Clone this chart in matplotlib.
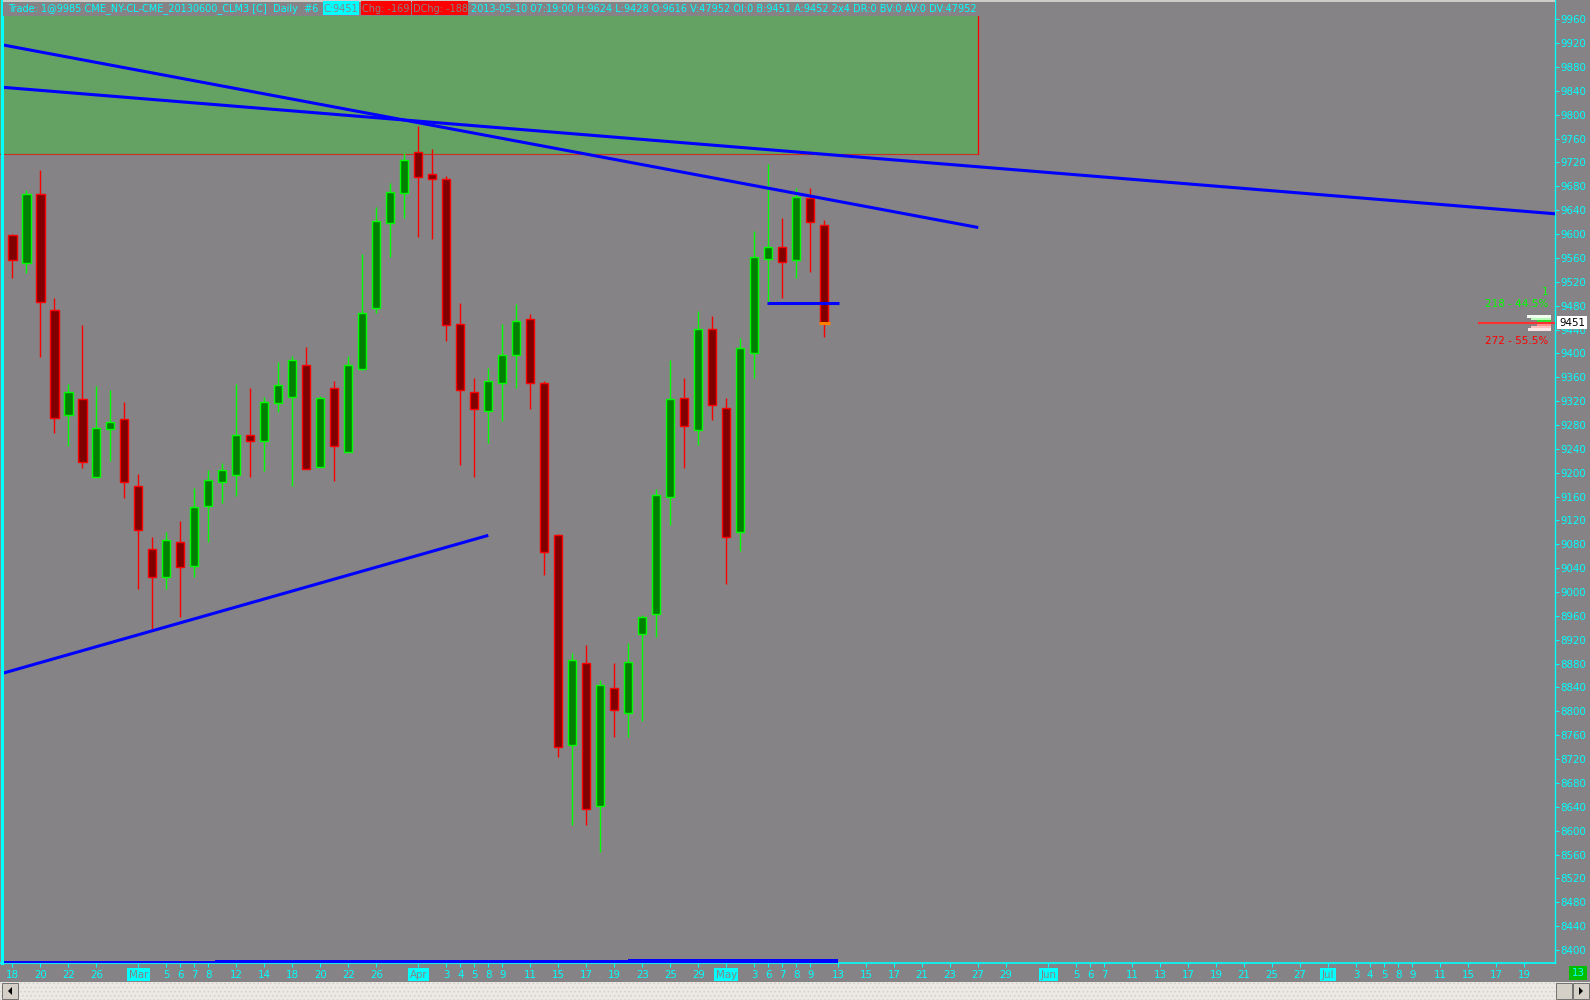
import matplotlib
matplotlib.use('Agg')
import matplotlib.pyplot as plt
from matplotlib.patches import Rectangle, Polygon
from matplotlib.lines import Line2D
import pandas as pd

# ---------------- data ----------------
all_dates = [d.strftime('%Y-%m-%d') for d in pd.bdate_range('2013-02-18', '2013-07-19')
             if d.strftime('%Y-%m-%d') != '2013-03-29']

opens = [9598, 9552, 9667, 9473, 9297, 9324, 9193, 9273, 9290, 9178,
         9072, 9025, 9084, 9044, 9144, 9184, 9196, 9263, 9253, 9317,
         9327, 9381, 9210, 9342, 9235, 9374, 9476, 9619, 9669, 9738,
         9700, 9693, 9450, 9336, 9303, 9350, 9397, 9457, 9350, 9095,
         8743, 8881, 8641, 8839, 8797, 8929, 8963, 9159, 9325, 9271,
         9441, 9308, 9100, 9400, 9559, 9579, 9556, 9660, 9616]
highs = [9600, 9674, 9707, 9493, 9349, 9448, 9345, 9339, 9319, 9198,
         9092, 9101, 9119, 9174, 9204, 9216, 9349, 9342, 9327, 9386,
         9396, 9411, 9329, 9354, 9396, 9567, 9645, 9686, 9736, 9781,
         9743, 9698, 9484, 9359, 9376, 9449, 9483, 9466, 9354, 9098,
         8897, 8911, 8853, 8881, 8914, 8961, 9172, 9389, 9359, 9471,
         9463, 9326, 9425, 9605, 9717, 9627, 9678, 9678, 9624]
lows = [9526, 9535, 9394, 9267, 9245, 9208, 9193, 9220, 9158, 9005,
        8938, 9005, 8958, 9025, 9084, 9150, 9161, 9193, 9203, 9302,
        9178, 9206, 9210, 9186, 9235, 9372, 9468, 9562, 9627, 9595,
        9592, 9420, 9213, 9193, 9249, 9287, 9342, 9307, 9029, 8723,
        8609, 8609, 8564, 8757, 8757, 8783, 8925, 9113, 9208, 9246,
        9288, 9013, 9068, 9358, 9486, 9493, 9526, 9537, 9428]
closes = [9557, 9667, 9486, 9292, 9335, 9218, 9275, 9285, 9184, 9104,
          9025, 9087, 9042, 9142, 9188, 9205, 9263, 9253, 9319, 9347,
          9389, 9206, 9325, 9245, 9381, 9468, 9622, 9671, 9724, 9696,
          9692, 9447, 9338, 9306, 9353, 9397, 9455, 9350, 9067, 8740,
          8886, 8637, 8844, 8802, 8882, 8958, 9162, 9323, 9279, 9441,
          9313, 9093, 9409, 9561, 9579, 9553, 9662, 9621, 9451]

label_dates = ['2013-02-18', '2013-02-20', '2013-02-22', '2013-02-26', '2013-03-01',
               '2013-03-05', '2013-03-06', '2013-03-07', '2013-03-08', '2013-03-12',
               '2013-03-14', '2013-03-18', '2013-03-20', '2013-03-22', '2013-03-26',
               '2013-04-01', '2013-04-03', '2013-04-04', '2013-04-05', '2013-04-08',
               '2013-04-09', '2013-04-11', '2013-04-15', '2013-04-17', '2013-04-19',
               '2013-04-23', '2013-04-25', '2013-04-29', '2013-05-01', '2013-05-03',
               '2013-05-06', '2013-05-07', '2013-05-08', '2013-05-09', '2013-05-13',
               '2013-05-15', '2013-05-17', '2013-05-21', '2013-05-23', '2013-05-27',
               '2013-05-29', '2013-06-03', '2013-06-05', '2013-06-06', '2013-06-07',
               '2013-06-11', '2013-06-13', '2013-06-17', '2013-06-19', '2013-06-21',
               '2013-06-25', '2013-06-27', '2013-07-01', '2013-07-03', '2013-07-04',
               '2013-07-05', '2013-07-08', '2013-07-09', '2013-07-11', '2013-07-15',
               '2013-07-17', '2013-07-19']
month_starts = {'2013-03-01': 'Mar', '2013-04-01': 'Apr', '2013-05-01': 'May',
                '2013-06-03': 'Jun', '2013-07-01': 'Jul'}

y_ticks = list(range(8400, 9961, 40))

# drawing tools (bar index, price)
trend_steep_x = [-0.66, 69.0]
trend_steep_y = [9917, 9611]
trend_long_x = [-0.66, 110.2]
trend_long_y = [9846, 9634]
trend_up_x = [-0.66, 34.0]
trend_up_y = [8864, 9095]
support_x = [53.9, 59.05]
support_y = [9484, 9484]
zone_x = [-0.879, 69.0]
zone_y = [9735, 10200]

step_edges = [-0.7, 14.5, 44.0, 59.0]
step_tops = [8381.0, 8382.5, 8384.5]

last_price = 9451
header_main = "Trade: 1@9985 CME_NY-CL-CME_20130600_CLM3 [C]  Daily  #6"
header_c = "C:9451"
header_chg = "Chg: -169"
header_dchg = "DChg: -188"
header_rest = ("2013-05-10 07:19:00 H:9624 L:9428 O:9616 V:47952 OI:0 B:9451 A:9452 "
               "2x4 DR:0 BV:0 AV:0 DV:47952")

# ---------------- style ----------------
W, H = 1590, 1000
BG = '#858385'
CYAN = '#00ffff'
UPF, UPE = '#008000', '#00ff00'
DNF, DNE = '#800000', '#ff0000'
BLUE = '#0000ff'
plt.rcParams['font.family'] = ['DejaVu Sans']
plt.rcParams['hatch.linewidth'] = 0.6

fig = plt.figure(figsize=(W / 100, H / 100), dpi=100)
fig.patch.set_facecolor(BG)
ax = fig.add_axes([0, 37 / H, 1555 / W, 963 / H])
ax.set_facecolor(BG)
ax.set_xlim(-0.879, 110.2)
ax.set_ylim(8378.2, 9992.35)


def fx(px):
    return px / W


def fy(py):
    return 1 - py / H


# zone
ax.add_patch(Rectangle((zone_x[0], zone_y[0]), zone_x[1] - zone_x[0], zone_y[1] - zone_y[0],
                       facecolor='#64a264', edgecolor='none', zorder=1))
ax.plot([zone_x[1], zone_x[1]], zone_y, color='#ff0000', lw=0.9, zorder=1.2)
ax.plot(zone_x, [zone_y[0], zone_y[0]], color='#c83020', lw=0.8, zorder=1.2)

# candles
bw = 0.6
for i, (o, h, l, c) in enumerate(zip(opens, highs, lows, closes)):
    up = c >= o
    fc, ec = (UPF, UPE) if up else (DNF, DNE)
    ax.vlines(i, l, h, color=ec, lw=1.0, zorder=2)
    lo, hi = min(o, c), max(o, c)
    ax.add_patch(Rectangle((i - bw / 2, lo), bw, max(hi - lo, 1.5), facecolor=fc,
                           edgecolor=ec, lw=1.0, zorder=2.5))
# last price marker on current bar
ax.hlines(closes[-1], len(closes) - 1 - 0.4, len(closes) - 1 + 0.4, color='#ff8000', lw=2.2, zorder=2.6)

# trend lines
for xs, ys in [(trend_steep_x, trend_steep_y), (trend_long_x, trend_long_y),
               (trend_up_x, trend_up_y), (support_x, support_y)]:
    ax.plot(xs, ys, color=BLUE, lw=2.2, zorder=3, solid_capstyle='butt')

# bottom indicator steps
for k in range(len(step_tops)):
    ax.fill_between([step_edges[k], step_edges[k + 1]], [8378.2, 8378.2],
                    [step_tops[k], step_tops[k]], color=BLUE, lw=0, zorder=3)

# right side profile
ax.hlines(last_price, 104.7, 110.2, color='#ff3030', lw=1.5, zorder=3)
prof_up_x0 = [108.2, 108.5, 108.9]
prof_up_p = [9462, 9458, 9454]
prof_up_c = ['#f0fff0', '#b8ffb8', '#30e030']
prof_dn_x0 = [108.9, 108.5, 108.3]
prof_dn_p = [9448, 9444, 9440]
prof_dn_c = ['#ff9090', '#ffc0c0', '#ffe6e6']
for x0, p, col in zip(prof_up_x0 + prof_dn_x0, prof_up_p + prof_dn_p, prof_up_c + prof_dn_c):
    ax.add_patch(Rectangle((x0, p - 2), 109.9 - x0, 4, facecolor=col, edgecolor='none', zorder=3.5))
ax.text(109.75, 9503, '1', color='#00ff00', ha='right', va='center', fontsize=7.5, zorder=4)
ax.text(109.75, 9483, '218 - 44.5%', color='#00ff00', ha='right', va='center', fontsize=7.5, zorder=4)
ax.text(109.75, 9420, '272 - 55.5%', color='#ff0000', ha='right', va='center', fontsize=7.5, zorder=4)

# axes styling
for s in ['top', 'left']:
    ax.spines[s].set_visible(False)
ax.spines['bottom'].set_color(CYAN)
ax.spines['bottom'].set_linewidth(1.2)
ax.spines['right'].set_color(CYAN)
ax.spines['right'].set_linewidth(1.0)
ax.yaxis.tick_right()
ax.set_yticks(y_ticks)
ax.set_yticklabels([str(v) for v in y_ticks])
ax.tick_params(axis='y', colors=CYAN, direction='out', length=3, width=0.8, labelsize=7.4, pad=1)

pos = {d: i for i, d in enumerate(all_dates)}
xt = [pos[d] for d in label_dates]
xl = [month_starts.get(d, str(int(d[-2:]))) for d in label_dates]
ax.set_xticks(xt)
ax.set_xticklabels(xl)
ax.tick_params(axis='x', colors=CYAN, direction='out', length=3, width=0.8, labelsize=7.4, pad=2)
for t, d in zip(ax.get_xticklabels(), label_dates):
    if d in month_starts:
        t.set_color(BG)
        t.set_bbox(dict(boxstyle='square,pad=0.15', facecolor=CYAN, edgecolor='none'))

# left cyan border
fig.add_artist(Line2D([fx(1.5), fx(1.5)], [fy(963), 1], color=CYAN, lw=2.2, transform=fig.transFigure))

# header band
fig.add_artist(Rectangle((fx(3), fy(16)), fx(1552), 16 / H, facecolor=BG, edgecolor='none',
                         transform=fig.transFigure, zorder=2))
fig.add_artist(Rectangle((fx(3), fy(1.5)), fx(1552), 1.5 / H, facecolor='#cfccc8', edgecolor='none',
                         transform=fig.transFigure, zorder=2.2))
for (x0, x1, col) in [(323, 359, CYAN), (361, 411, '#ff0000'), (412, 468, '#ff0000')]:
    fig.add_artist(Rectangle((fx(x0), fy(15)), fx(x1 - x0), 14 / H, facecolor=col, edgecolor='none',
                             transform=fig.transFigure, zorder=2.5))
renderer = fig.canvas.get_renderer()
t5 = fig.text(fx(471), fy(8.5), header_rest, color=CYAN, fontsize=8, va='center', ha='left', zorder=3)
wpx = t5.get_window_extent(renderer).width
hs = 8 * 508 / wpx
t5.set_fontsize(hs)
fig.text(fx(8), fy(8.5), header_main, color=CYAN, fontsize=hs, va='center', ha='left', zorder=3)
fig.text(fx(324), fy(8.5), header_c, color=BG, fontsize=hs, va='center', ha='left', zorder=3)
fig.text(fx(362), fy(8.5), header_chg, color=BG, fontsize=hs, va='center', ha='left', zorder=3)
fig.text(fx(413), fy(8.5), header_dchg, color=BG, fontsize=hs, va='center', ha='left', zorder=3)

# last price box on axis
fig.text(fx(1559), fy(322.5), str(last_price), color='black', fontsize=7.4, va='center', ha='left',
         zorder=5, bbox=dict(boxstyle='square,pad=0.15', facecolor='white', edgecolor='none'))
# current day label
fig.text(fx(1578), fy(973), '13', color=CYAN, fontsize=7.4, va='center', ha='center', zorder=5,
         bbox=dict(boxstyle='square,pad=0.2', facecolor='#00c000', edgecolor='none'))

# scrollbar
fig.add_artist(Rectangle((0, 0), 1, 18 / H, facecolor='#ece9e4', edgecolor='#d2cec8', hatch='....',
                         lw=0, transform=fig.transFigure, zorder=2))
for (x0, x1, arrow) in [(2, 18, 'L'), (1556, 1572, None), (1573, 1589, 'R')]:
    fig.add_artist(Rectangle((fx(x0), fy(999)), fx(x1 - x0), 16 / H, facecolor='#d4d0c8',
                             edgecolor='#606060', lw=0.6, transform=fig.transFigure, zorder=3))
    cx, cy = (x0 + x1) / 2, 991
    if arrow == 'L':
        pts = [(fx(cx + 2), fy(cy - 4)), (fx(cx + 2), fy(cy + 4)), (fx(cx - 2), fy(cy))]
    elif arrow == 'R':
        pts = [(fx(cx - 2), fy(cy - 4)), (fx(cx - 2), fy(cy + 4)), (fx(cx + 2), fy(cy))]
    else:
        pts = None
    if pts:
        fig.add_artist(Polygon(pts, closed=True, facecolor='black', edgecolor='none',
                               transform=fig.transFigure, zorder=4))

fig.savefig('out.png', dpi=100, facecolor=BG)
